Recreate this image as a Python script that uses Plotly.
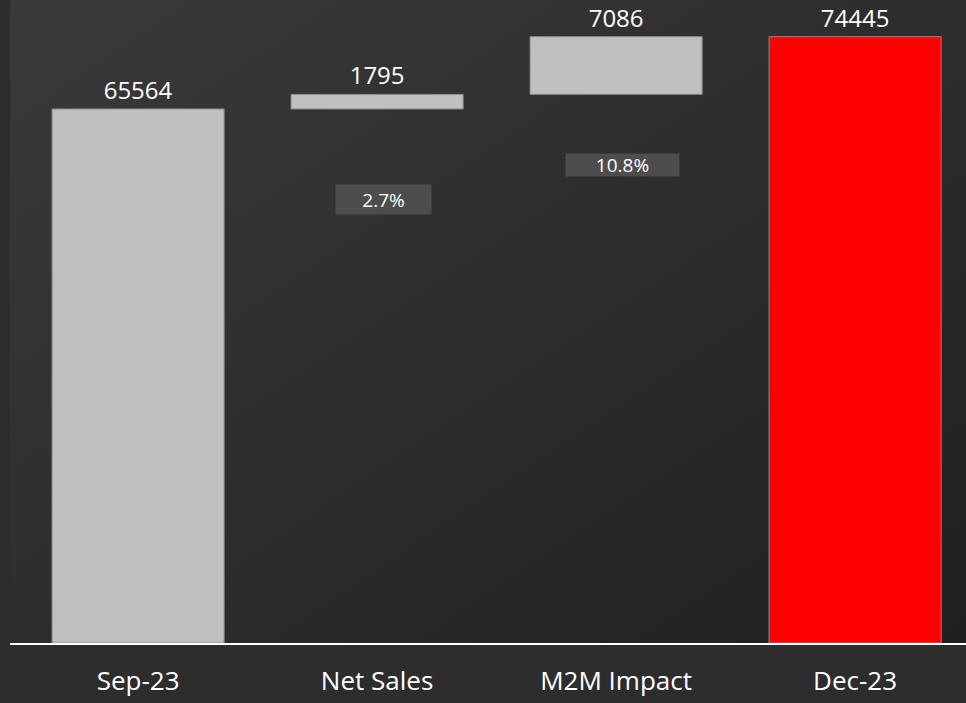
import plotly.graph_objects as go

# datos del gráfico
categorias = ["Sep-23", "Net Sales", "M2M Impact", "Dec-23"]
valores = [65564, 1795, 7086, 74445]
tipo = ["absolute", "relative", "relative", "total"]
porcentajes = ["", "2.7%", "10.8%", ""]
colores = ["#c0c0c0", "#c0c0c0", "#c0c0c0", "#ff0000"]

# base de cada barra (cascada)
bases = []
acumulado = 0
for v, t in zip(valores, tipo):
    if t == "relative":
        bases.append(acumulado)
        acumulado += v
    else:
        bases.append(0)
        acumulado = v

fondo = (
    "data:image/svg+xml;utf8,"
    "<svg xmlns='http://www.w3.org/2000/svg' width='966' height='703'>"
    "<defs><linearGradient id='g' x1='0' y1='0' x2='1' y2='1'>"
    "<stop offset='0' stop-color='%233a3a3a'/><stop offset='1' stop-color='%23202020'/>"
    "</linearGradient></defs><rect width='966' height='703' fill='url(%23g)'/></svg>"
)

fig = go.Figure()

fig.add_trace(go.Bar(
    x=categorias,
    y=valores,
    base=bases,
    width=0.72,
    marker=dict(color=colores, line=dict(color="#8a8a8a", width=1)),
    text=[str(v) for v in valores],
    textposition="outside",
    textfont=dict(size=24, color="white"),
    cliponaxis=False,
    hoverinfo="skip",
))

# etiquetas de porcentaje
pos_y = [0, 54400, 58700, 0]
for i, p in enumerate(porcentajes):
    if p:
        fig.add_annotation(
            x=i + 0.025, y=pos_y[i], text=p, showarrow=False,
            font=dict(size=19, color="white"),
            bgcolor="#4d4d4d", borderpad=0,
            width=95 if i == 1 else 113,
            height=29 if i == 1 else 22,
        )

fig.update_layout(
    width=966, height=703,
    margin=dict(l=10, r=0, t=0, b=60),
    paper_bgcolor="#2d2d2d",
    plot_bgcolor="rgba(0,0,0,0)",
    font=dict(family="Open Sans", color="white"),
    showlegend=False,
    images=[dict(source=fondo, xref="paper", yref="paper", x=0, y=1,
                 sizex=1, sizey=1, sizing="stretch", layer="below",
                 xanchor="left", yanchor="top")],
    xaxis=dict(range=[-0.536, 3.464], showgrid=False, showline=True,
               linecolor="white", linewidth=2, ticks="",
               ticklabelstandoff=14,
               tickfont=dict(size=26, color="white")),
    yaxis=dict(range=[0, 78944], visible=False),
)

fig.write_html("out.html", config={"displayModeBar": False},
               post_script="document.body.style.margin='0';")
